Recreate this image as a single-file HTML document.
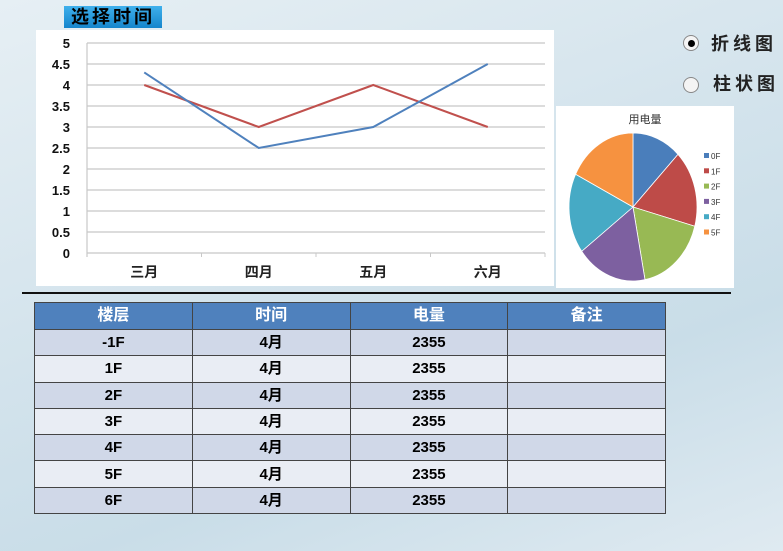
<!DOCTYPE html>
<html><head><meta charset="utf-8">
<style>
body{margin:0;width:783px;height:551px;overflow:hidden;font-family:"Liberation Sans","Noto Sans CJK SC",sans-serif;
background:linear-gradient(160deg,#e6eff4 0%,#d3e3ec 45%,#c9dde8 70%,#dfeaf1 100%);position:relative}
.abs{position:absolute}
#title{left:64px;top:6px;width:98px;height:22px;background:linear-gradient(#3fb0ec,#1585cc);color:#000;font-weight:bold;font-size:18px;letter-spacing:3px;line-height:22px;text-align:center}
.radio{width:14px;height:14px;border-radius:50%;border:1px solid #888;background:#f4f4f4}
.rlabel{font-size:18px;font-weight:bold;letter-spacing:4px;color:#222}
table{border-collapse:collapse;position:absolute;left:34px;top:302px;width:632px;font-weight:bold;font-size:15px;table-layout:fixed}
td,th{border:1px solid #444;text-align:center;height:25.3px;padding:0;line-height:1;vertical-align:middle}
th{background:#4f81bd;color:#fff;font-size:16px;height:26px}
tr.a td{background:#d0d8e8}tr.b td{background:#e9edf4}
</style></head><body>
<div id="title" class="abs">选择时间</div>
<svg class="abs" style="left:0;top:0" width="783" height="551">
<rect x="36" y="30" width="518" height="256" fill="#fff"/>
<g id="lc"></g>
<rect x="556" y="106" width="178" height="182" fill="#fff"/>
<text x="645" y="123" font-size="11" text-anchor="middle" fill="#333">用电量</text>
<g id="pc"></g>
<line x1="22" y1="293" x2="731" y2="293" stroke="#111" stroke-width="2"/>
</svg>
<div class="abs radio" style="left:683px;top:35px;display:flex;align-items:center;justify-content:center"><div style="width:7px;height:7px;border-radius:50%;background:#000"></div></div>
<div class="abs rlabel" style="left:711px;top:30px">折线图</div>
<div class="abs radio" style="left:683px;top:77px"></div>
<div class="abs rlabel" style="left:713px;top:70px">柱状图</div>
<table>
<colgroup><col style="width:25%"><col style="width:25%"><col style="width:25%"><col style="width:25%"></colgroup>
<tr><th>楼层</th><th>时间</th><th>电量</th><th>备注</th></tr>
<tr class="a"><td>-1F</td><td>4月</td><td>2355</td><td></td></tr>
<tr class="b"><td>1F</td><td>4月</td><td>2355</td><td></td></tr>
<tr class="a"><td>2F</td><td>4月</td><td>2355</td><td></td></tr>
<tr class="b"><td>3F</td><td>4月</td><td>2355</td><td></td></tr>
<tr class="a"><td>4F</td><td>4月</td><td>2355</td><td></td></tr>
<tr class="b"><td>5F</td><td>4月</td><td>2355</td><td></td></tr>
<tr class="a"><td>6F</td><td>4月</td><td>2355</td><td></td></tr>
</table>
<script>
const categories=["三月","四月","五月","六月"];
const seriesBlue=[4.3,2.5,3,4.5];
const seriesRed=[4,3,4,3];
const yTicks=[0,0.5,1,1.5,2,2.5,3,3.5,4,4.5,5];
const pieLabels=["0F","1F","2F","3F","4F","5F"];
const pieValues=[12.4,16.8,17.8,17.8,17.5,17.7];
const pieColors=["#4a7ebb","#be4b48","#98b954","#7d60a0","#46aac5","#f69240"];
const NS="http://www.w3.org/2000/svg";
function mk(p,t,a){const e=document.createElementNS(NS,t);for(const k in a)e.setAttribute(k,a[k]);p.appendChild(e);return e;}
const lc=document.getElementById('lc');
const X0=87,X1=545,Y0=253,Y1=43;
const yS=v=>Y0-(v-0)/(5-0)*(Y0-Y1);
const bw=(X1-X0)/categories.length;
const xS=i=>X0+bw*(i+0.5);
yTicks.forEach(v=>{
 const l=mk(lc,'line',{x1:X0,x2:X1,y1:yS(v),y2:yS(v),stroke:'#c8c8c8','stroke-width':1.2});
 
 
 const t=mk(lc,'text',{x:70,y:yS(v)+5,'font-size':13,'font-weight':'bold','text-anchor':'end',fill:'#111'});
 t.textContent=v;
 
 
});
mk(lc,'line',{x1:X0,x2:X0,y1:Y1,y2:Y0+4,stroke:'#c8c8c8','stroke-width':1.2});
categories.forEach((c,i)=>{
 mk(lc,'line',{x1:X0+bw*(i+1),x2:X0+bw*(i+1),y1:Y0,y2:Y0+4,stroke:'#c8c8c8'});
 const t=mk(lc,'text',{x:xS(i),y:277,'font-size':14,'font-weight':'bold','text-anchor':'middle',fill:'#222'});
 t.textContent=c;
 
 
});
[[seriesRed,'#c0504d','series-red-line'],[seriesBlue,'#4f81bd','series-blue-line']].forEach(([s,col,n])=>{
 const p=mk(lc,'polyline',{points:s.map((v,i)=>xS(i)+','+yS(v)).join(' '),fill:'none',stroke:col,'stroke-width':2});
 
 
});
const pc=document.getElementById('pc');
const cx=633,cy=207,rx=64,ry=74;
const tot=pieValues.reduce((a,b)=>a+b,0);
let ang=0;
pieValues.forEach((v,i)=>{
 const a0=ang,a1=ang+v/tot*2*Math.PI;ang=a1;
 const p0=[cx+rx*Math.sin(a0),cy-ry*Math.cos(a0)],p1=[cx+rx*Math.sin(a1),cy-ry*Math.cos(a1)];
 const s=mk(pc,'path',{d:`M${cx},${cy}L${p0[0]},${p0[1]}A${rx},${ry} 0 ${a1-a0>Math.PI?1:0} 1 ${p1[0]},${p1[1]}Z`,fill:pieColors[i],stroke:'#fff','stroke-width':0.8});
 
 
 mk(pc,'rect',{x:704,y:153+i*15.3,width:5,height:5,fill:pieColors[i]});
 const t=mk(pc,'text',{x:711,y:159+i*15.3,'font-size':8,fill:'#333'});
 t.textContent=pieLabels[i];
 
 
});
</script>
</body></html>
